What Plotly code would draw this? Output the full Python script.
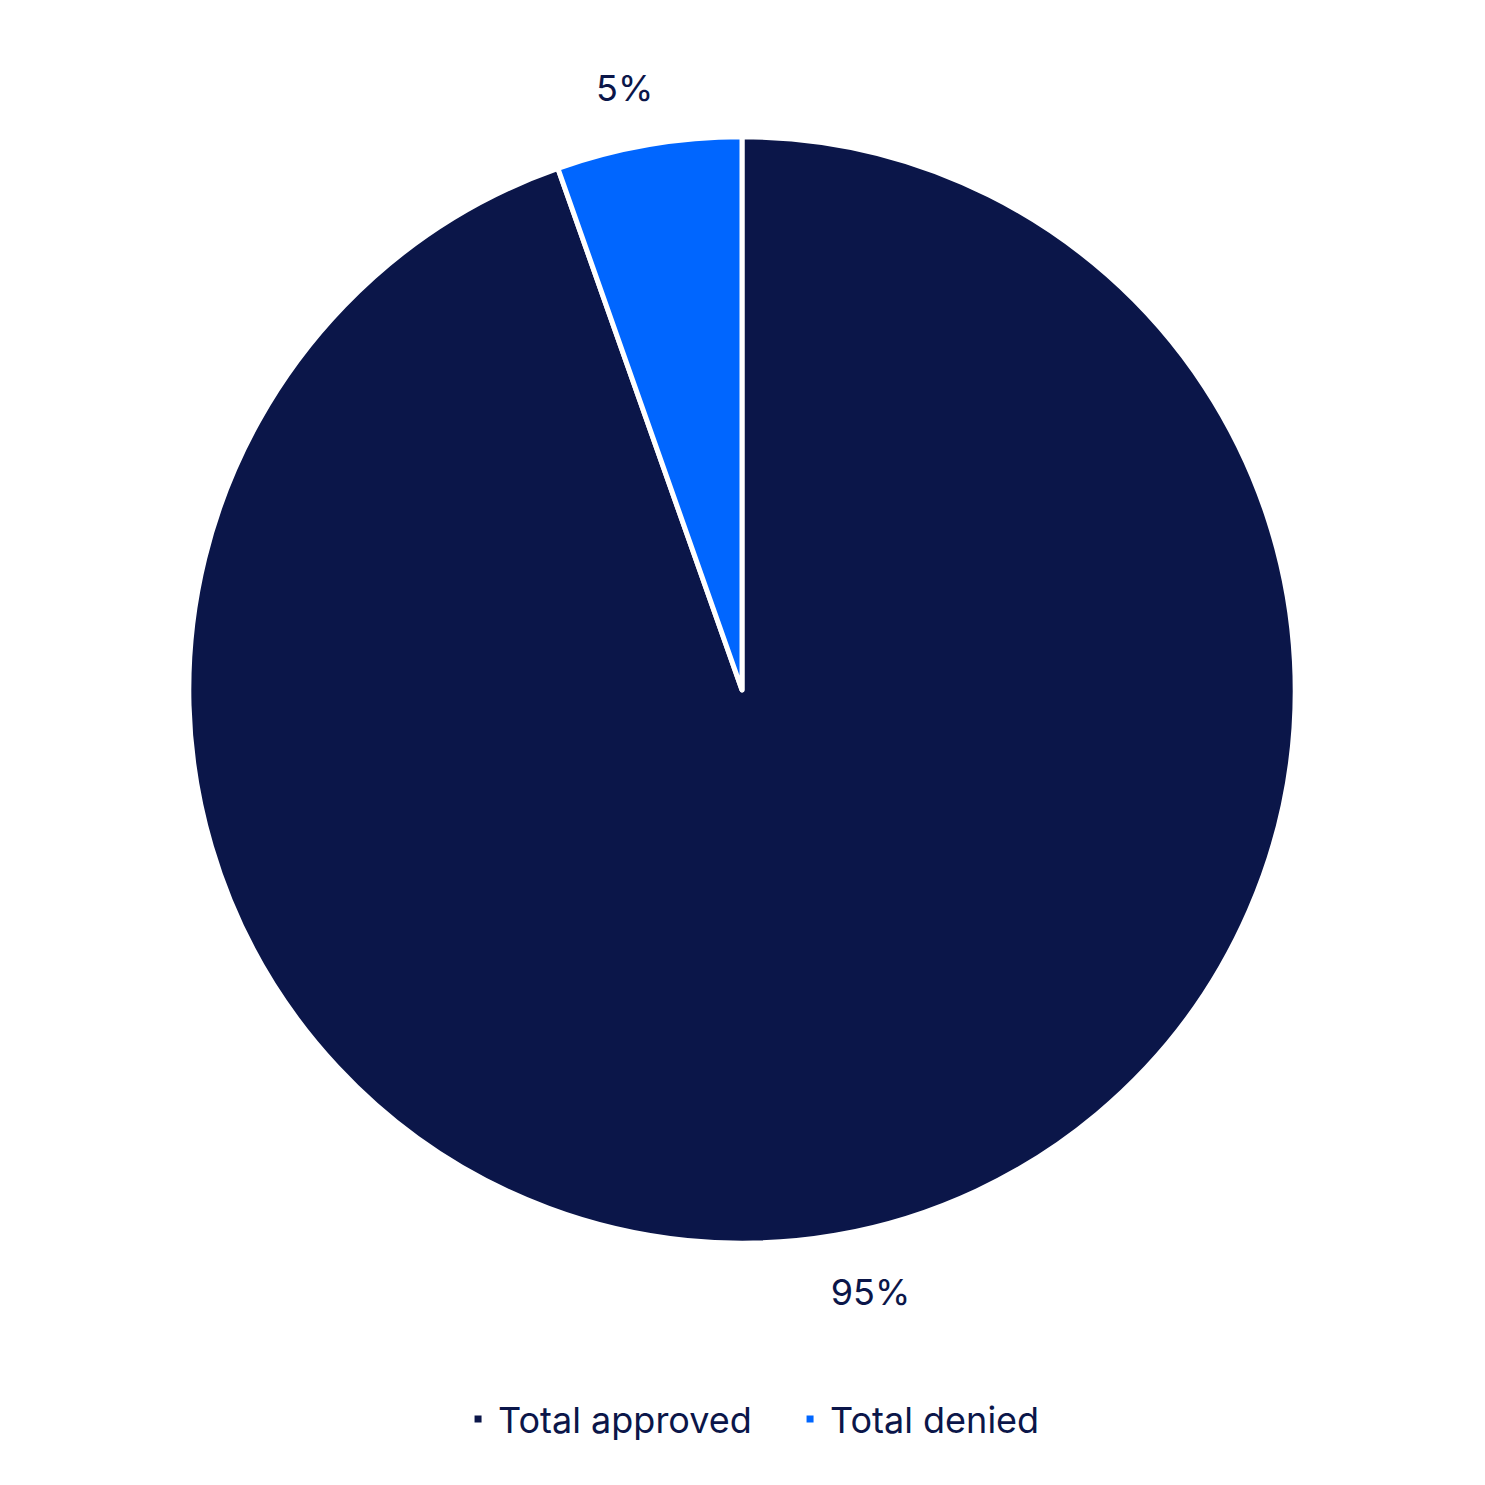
import plotly.graph_objects as go

labels = ["Total approved", "Total denied"]
values = [94.6, 5.4]
colors = ["#0B1649", "#0066FF"]

fig = go.Figure()

# the visible pie
fig.add_trace(go.Pie(
    labels=labels,
    values=values,
    sort=False,
    direction="clockwise",
    rotation=0,
    domain=dict(x=[0.028, 0.972], y=[0.028, 0.972]),
    marker=dict(colors=colors, line=dict(color="white", width=5)),
    textinfo="none",
    hoverinfo="label+percent",
))

# transparent, slightly larger copy that only carries the outside labels,
# so they sit further from the rim like in the original
fig.add_trace(go.Pie(
    labels=labels,
    values=values,
    sort=False,
    direction="clockwise",
    rotation=2.1,
    domain=dict(x=[0, 1], y=[0, 1]),
    marker=dict(colors=["rgba(0,0,0,0)"] * len(labels), line=dict(width=0)),
    textposition="outside",
    texttemplate="%{percent:.0%}",
    textfont=dict(size=36, color="#0B1649", family="Inter"),
    showlegend=False,
    hoverinfo="skip",
))

fig.update_layout(
    width=1485,
    height=1485,
    paper_bgcolor="white",
    plot_bgcolor="white",
    margin=dict(l=148, r=165, t=96, b=217),
    font=dict(family="Inter", color="#0B1649", size=36),
    showlegend=True,
    legend=dict(
        orientation="h",
        x=0.541,
        xanchor="center",
        y=-0.122,
        yanchor="middle",
        font=dict(size=36, color="#0B1649", family="Inter"),
        itemwidth=30,
        entrywidth=287,
    ),
)

fig.write_html("out.html")
